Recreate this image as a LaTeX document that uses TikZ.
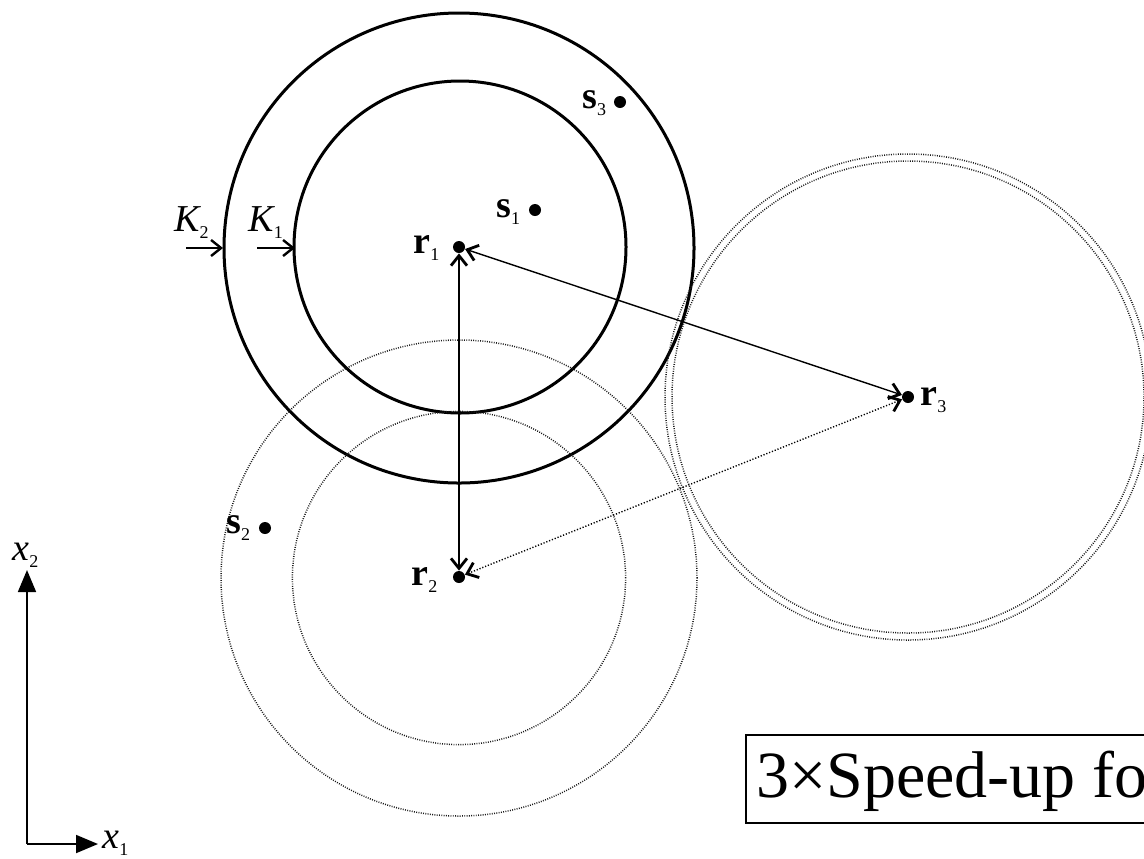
\documentclass[tikz,border=0pt]{standalone}
\usepackage{fontspec}
\setmainfont{Liberation Serif}
\usetikzlibrary{arrows.meta}
\newcommand\mysub[1]{{\fontsize{9}{9}\selectfont\mdseries\upshape\raisebox{-3.5pt}{#1}}}
\tikzset{
  solidc/.style={line width=1.5pt},
  dotc/.style={line width=0.75pt, black!90, dash pattern=on 0.45pt off 0.7pt},
  dot/.style={circle, fill=black, inner sep=0pt, minimum size=6pt},
  barb/.style={},
  conn/.style={line width=0.7pt, {Straight Barb[length=5pt,width=8pt,line width=1.4pt]}-{Straight Barb[length=5pt,width=8pt,line width=1.4pt]}},
  karrow/.style={line width=0.7pt, -{Straight Barb[length=5pt,width=8pt,line width=1.2pt]}},
  axis/.style={line width=0.9pt, -{Triangle[length=11pt,width=9pt]}},
  lbl/.style={inner sep=0pt, anchor=base west, font=\fontsize{19}{19}\selectfont},
}
\begin{document}
\begin{tikzpicture}[x=0.5pt,y=-0.5pt]
\useasboundingbox (0,0) rectangle (1144,858);
\clip (0,0) rectangle (1144,858);
% circles around r1
\draw[solidc] (459,248) circle[radius=117.5pt];
\draw[solidc] (460,247) circle[radius=83pt];
% circles around r2
\draw[dotc] (459,578) circle[radius=119pt];
\draw[dotc] (459,578) circle[radius=83.3pt];
% circles around r3
\draw[dotc] (908,397) circle[radius=121.5pt];
\draw[dotc] (908,397) circle[radius=118pt];
% points
\node[dot] (r1) at (459,247) {};
\node[dot] (r2) at (459,577) {};
\node[dot] (r3) at (908,397) {};
\node[dot] (s1) at (535,210) {};
\node[dot] (s2) at (265,528) {};
\node[dot] (s3) at (620,102) {};
% connectors
\draw[conn] (r1) -- (r2);
\draw[conn] (r1) -- (r3);
\draw[conn, line width=0.7pt, dash pattern=on 0.6pt off 0.9pt] (r2) -- (r3);
% labels
\node[lbl] (lr1) at (413,253) {\bfseries r\mysub{1}};
\node[lbl] (lr2) at (411,585) {\bfseries r\mysub{2}};
\node[lbl] (lr3) at (920,405) {\bfseries r\mysub{3}};
\node[lbl] (ls1) at (496,217) {\bfseries s\mysub{1}};
\node[lbl] (ls2) at (226,533) {\bfseries s\mysub{2}};
\node[lbl] (ls3) at (582,108) {\bfseries s\mysub{3}};
\node[lbl] (lk2) at (174,231) {\itshape K\mysub{2}};
\node[lbl] (lk1) at (248,231) {\itshape K\mysub{1}};
% K arrows
\coordinate (k2s) at (186,248);
\coordinate (k2e) at (223,248);
\coordinate (k1s) at (257,248);
\coordinate (k1e) at (295,248);
\draw[karrow] (k2s) -- (k2e);
\draw[karrow] (k1s) -- (k1e);
% axes
\coordinate (o) at (27,844);
\coordinate (x2e) at (27,570);
\coordinate (x1e) at (98,844);
\draw[axis] (o) -- (x2e);
\draw[axis] (o) -- (x1e);
\node[lbl] (lx2) at (12,560) {\itshape x\mysub{2}};
\node[lbl] (lx1) at (102,848) {\itshape x\mysub{1}};
% box
\draw[line width=1pt] (746,735) rectangle (1200,823);
\node[inner sep=0pt, anchor=base west, font=\fontsize{33}{33}\selectfont] (speed) at (756,797) {3×Speed-up fo};
\end{tikzpicture}
\end{document}
